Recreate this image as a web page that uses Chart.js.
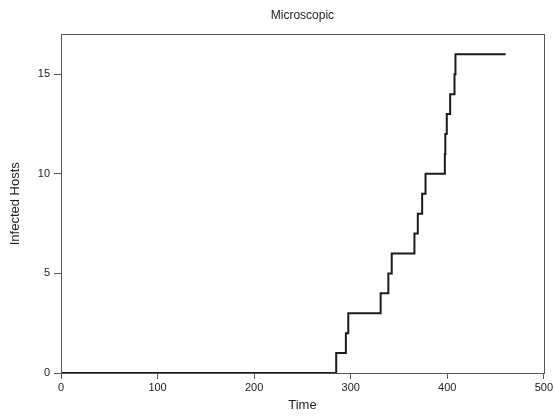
<!DOCTYPE html>
<html>
<head>
<meta charset="utf-8">
<script src="https://cdn.jsdelivr.net/npm/chart.js@4.4.1/dist/chart.umd.min.js"></script>
<style>
  html, body { margin: 0; padding: 0; background: #fff; }
  #wrap { width: 555px; height: 416px; }
</style>
</head>
<body>
<div id="wrap"><canvas id="chart"></canvas></div>
<script>
// event times and the number of infected hosts after each event
const times = [0, 285, 295, 297.5, 331, 339, 342.5, 366, 369.5, 374, 377.5, 397.5, 398, 399.5, 403, 407.5, 408.5, 460.5];
const infected = [0, 1, 2, 3, 4, 5, 6, 7, 8, 9, 10, 11, 12, 13, 14, 15, 16, 16];
const xTicks = [0, 100, 200, 300, 400, 500];
const yTicks = [0, 5, 10, 15];

const font = '"Liberation Sans", Arial, Helvetica, sans-serif';

// box round the plot area, like base graphics
const frame = {
  id: 'frame',
  afterDraw(chart) {
    const { ctx, chartArea: a } = chart;
    ctx.save();
    ctx.strokeStyle = '#555';
    ctx.lineWidth = 1;
    ctx.strokeRect(Math.round(a.left) + 0.5, Math.round(a.top) + 0.5,
      Math.round(a.right - a.left), Math.round(a.bottom - a.top));
    ctx.restore();
  }
};

const ctx = document.getElementById('chart').getContext('2d');
new Chart(ctx, {
  type: 'scatter',
  data: {
    datasets: [{
      data: times.map((t, i) => ({ x: t, y: infected[i] })),
      showLine: true,
      stepped: true,
      borderColor: '#1a1a1a',
      borderWidth: 2,
      pointRadius: 0,
      fill: false
    }]
  },
  options: {
    responsive: true,
    maintainAspectRatio: false,
    animation: false,
    layout: { padding: { left: 0, right: 8, top: 0, bottom: 0 } },
    plugins: {
      legend: { display: false },
      tooltip: { enabled: false },
      title: {
        display: true,
        text: 'Microscopic',
        fullSize: false,
        color: '#222',
        font: { family: font, size: 12, weight: 'normal' },
        padding: { top: 8, bottom: 12 }
      }
    },
    scales: {
      x: {
        type: 'linear',
        min: 0,
        max: 500,
        afterBuildTicks: s => { s.ticks = xTicks.map(v => ({ value: v })); },
        afterFit: s => { s.height = 43; },
        grid: { drawOnChartArea: false, drawTicks: true, tickLength: 6, color: '#555' },
        border: { display: true, color: '#555' },
        ticks: { color: '#222', font: { family: font, size: 11 }, padding: 2, maxRotation: 0 },
        title: {
          display: true, text: 'Time', color: '#222',
          font: { family: font, size: 13 }, padding: { top: 0, bottom: 3 }
        }
      },
      y: {
        type: 'linear',
        min: 0,
        max: 17,
        afterBuildTicks: s => { s.ticks = yTicks.map(v => ({ value: v })); },
        afterFit: s => { s.width = 61; },
        grid: { drawOnChartArea: false, drawTicks: true, tickLength: 7, color: '#555' },
        border: { display: true, color: '#555' },
        ticks: { color: '#222', font: { family: font, size: 11 }, padding: 4 },
        title: {
          display: true, text: 'Infected Hosts', color: '#222',
          font: { family: font, size: 13 }, padding: { top: 8, bottom: 0 }
        }
      }
    }
  },
  plugins: [frame]
});
</script>
</body>
</html>
